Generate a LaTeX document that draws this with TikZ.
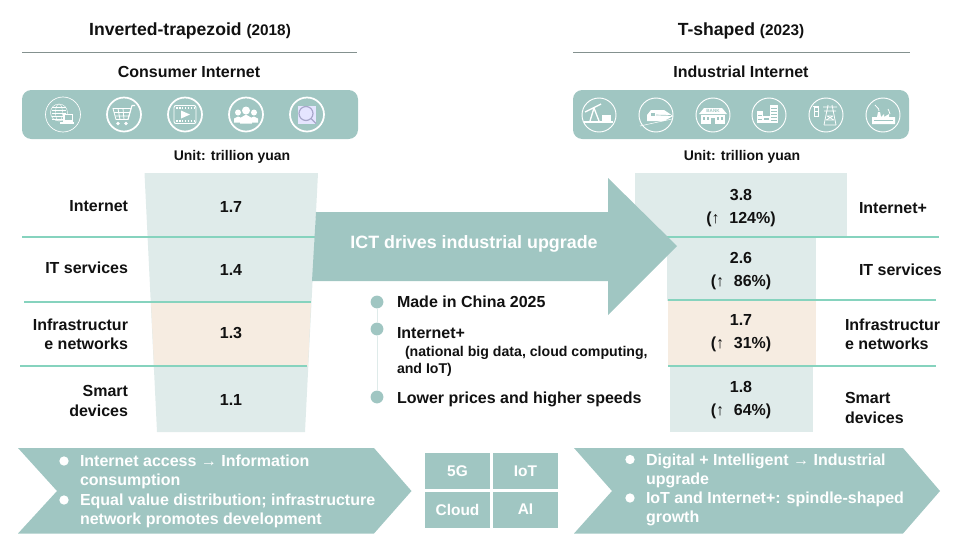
\documentclass[tikz,border=0pt]{standalone}
\usepackage{fontspec}
\setmainfont{Liberation Sans}
\usepackage{tikz}
\usetikzlibrary{calc}

\definecolor{tealfill}{HTML}{A0C6C2}
\definecolor{palefill}{HTML}{DFEBEA}
\definecolor{peachfill}{HTML}{F6ECE1}
\definecolor{bandline}{HTML}{86D3BE}
\definecolor{headline}{HTML}{84918F}
\definecolor{inktext}{HTML}{111111}

\tikzset{
  every node/.style={inner sep=0pt,outer sep=0pt,text=inktext,font=\fontsize{12}{14.4}\selectfont\bfseries},
  titletext/.style={font=\fontsize{13.2}{15}\selectfont\bfseries},
  unittext/.style={font=\fontsize{10.5}{12}\selectfont\bfseries},
  valuetext/.style={align=center,font=\fontsize{12}{17.2}\selectfont\bfseries},
  whitetext/.style={text=white,align=left,anchor=north west,font=\fontsize{12}{14.4}\selectfont\bfseries},
  lefttag/.style={align=right,anchor=east},
  righttag/.style={align=left,anchor=west},
  midtext/.style={anchor=west,align=left,font=\fontsize{12}{12.8}\selectfont\bfseries},
  bandrule/.style={bandline,line width=0.8pt},
  iconring/.style={white,line width=0.5pt},
  iconringb/.style={white,line width=1.3pt},
  gridcell/.style={fill=tealfill,minimum width=48.75pt,minimum height=27pt,text=white,font=\fontsize{11.6}{14}\selectfont\bfseries},
  dotmark/.style={circle,fill=tealfill,minimum size=9.6pt},
  whitedot/.style={circle,fill=white,minimum size=7pt}
}

\begin{document}
\begin{tikzpicture}[x=0.75pt,y=-0.75pt]
\useasboundingbox (0,0) rectangle (960,540);

% left column
\node[titletext] (lefttitle) at (190,31) {Inverted-trapezoid {\fontsize{11.5}{12}\selectfont(2018)}};
\draw[headline,line width=0.6pt] (22,52)--(357,52);
\node (leftsub) at (189,72) {Consumer Internet};
\fill[tealfill,rounded corners=7pt] (22,90) rectangle (358,139);
\node[unittext] (leftunit) at (232,157) {Unit: trillion yuan};

\fill[palefill] (144.5,173)--(318,173)--(305,432)--(157,432)--cycle;
\fill[peachfill] (151,302)--(311,302)--(308,366)--(154,366)--cycle;
\draw[bandrule] (22,237)--(315,237);
\draw[bandrule] (24,302)--(311,302);
\draw[bandrule] (20,366)--(307,366);

\node (lefta) at (231,207) {1.7};
\node (leftb) at (231,270) {1.4};
\node (leftc) at (231,333) {1.3};
\node (leftd) at (231,400) {1.1};
\node[lefttag] (taga) at (128,206) {Internet};
\node[lefttag] (tagb) at (128,268) {IT services};
\node[lefttag] (tagc) at (128,334) {Infrastructur\\e networks};
\node[lefttag] (tagd) at (128,401) {Smart\\devices};

% right column
\node[titletext] (righttitle) at (741,31) {T-shaped {\fontsize{11.5}{12}\selectfont(2023)}};
\draw[headline,line width=0.6pt] (573,52)--(910,52);
\node (rightsub) at (741,72) {Industrial Internet};
\fill[tealfill,rounded corners=7pt] (573,90) rectangle (909,139);
\node[unittext] (rightunit) at (742,157) {Unit: trillion yuan};

\fill[palefill] (635,173) rectangle (847,237);
\fill[palefill] (667,237) rectangle (816,301);
\fill[peachfill] (668,301) rectangle (816,366);
\fill[palefill] (670,366) rectangle (813,432);
\draw[bandrule] (667,237)--(939,237);
\draw[bandrule] (668,300)--(936,300);
\draw[bandrule] (668,366)--(936,366);

\node[valuetext] (righta) at (741,208) {3.8\\(↑ \,\,124\%)};
\node[valuetext] (rightb) at (741,271) {2.6\\(↑ \,\,86\%)};
\node[valuetext] (rightc) at (741,333) {1.7\\(↑ \,\,31\%)};
\node[valuetext] (rightd) at (741,400) {1.8\\(↑ \,\,64\%)};
\node[righttag] (tage) at (859,208) {Internet+};
\node[righttag] (tagf) at (859,270) {IT services};
\node[righttag] (tagg) at (845,334) {Infrastructur\\e networks};
\node[righttag] (tagh) at (845,408) {Smart\\devices};

% big arrow
\fill[tealfill] (316,212)--(608,212)--(608,178)--(677,246)--(608,315)--(608,281)--(312,281)--cycle;
\node[text=white,font=\fontsize{13.4}{15}\selectfont\bfseries] (arrowtext) at (474,244) {ICT drives industrial upgrade};

% policy list
\node[dotmark] (dota) at (377,302) {};
\node[dotmark] (dotb) at (377,329) {};
\node[dotmark] (dotc) at (377,397) {};
\draw[palefill,line width=0.6pt] (dota)--(dotb);
\draw[palefill,line width=0.6pt] (dotb)--(dotc);
\node[midtext] (mida) at (397,302) {Made in China 2025};
\node[midtext] (midb) at (397,352) {Internet+\\\hspace*{6pt}{\fontsize{10.6}{12.8}\selectfont(national big data, cloud computing,}\\{\fontsize{10.6}{12.8}\selectfont and IoT)}};
\node[midtext] (midc) at (397,399) {Lower prices and higher speeds};

% bottom chevrons
\fill[tealfill] (18,448)--(374,448)--(411.5,491)--(374,533.5)--(18,533.5)--(57,491)--cycle;
\fill[tealfill] (574,448)--(903,448)--(940,491)--(903,533.5)--(574,533.5)--(612,491)--cycle;
\node[whitedot] (bula) at (64,461) {};
\node[whitedot] (bulb) at (64,500) {};
\node[whitedot] (bulc) at (630,459.5) {};
\node[whitedot] (buld) at (630,498) {};
\node[whitetext] (infoa) at (80,455) {Internet access → Information\\consumption\\Equal value distribution; infrastructure\\network promotes development};
\node[whitetext] (infob) at (646,453.5) {Digital + Intelligent → Industrial\\upgrade\\IoT and Internet+: spindle-shaped\\growth};

% technology grid
\node[gridcell] (cellg) at (457.5,471) {5G};
\node[gridcell] (celli) at (525.5,471) {IoT};
\node[gridcell] (cellc) at (457.5,509.5) {Cloud};
\node[gridcell] (cella) at (525.5,509.5) {AI};

% icon rings
\foreach \x in {63}
  \draw[iconring] (\x,114.5) circle(17.5);
\foreach \x in {124,185,246,307}
  \draw[iconringb] (\x,114.5) circle(17);
\foreach \x in {599,656,713,769,826,883}
  \draw[iconring,line width=0.7pt] (\x,115) circle(17);

% globe
\begin{scope}[shift={(63,114.5)}]
\draw[white,line width=0.3pt] (-4,-2) circle(8.5);
\draw[white,line width=0.3pt] (-4,-2) ellipse(3.5 and 8.5);
\foreach \y in {-7,-4,-1,2,5} \draw[white,line width=0.3pt] (-11,\y)--(3,\y);
\fill[white] (0,-1) rectangle (10,7);
\fill[tealfill] (1.5,0.5) rectangle (8.5,5);
\fill[white] (-3,7.5) rectangle (11,9.5);
\end{scope}
% cart
\begin{scope}[shift={(124,114.5)}]
\draw[white,line width=0.6pt] (-11,-6)--(7,-6)--(4,5)--(-8,5)--cycle;
\draw[white,line width=0.6pt] (-10,-2)--(6,-2) (-9,1.5)--(5,1.5) (-6,-6)--(-4,5) (-1,-6)--(0,5);
\draw[white,line width=0.8pt] (4,5)--(8,-9)--(11,-9);
\fill[white] (-6,9) circle(1.8) (2,9) circle(1.8);
\end{scope}
% film
\begin{scope}[shift={(185,114.5)}]
\draw[white,line width=0.7pt,rounded corners=1.5pt] (-11,-9) rectangle (11,9);
\draw[white,line width=1.2pt,densely dotted] (-9,-6.5)--(9,-6.5) (-9,6.5)--(9,6.5);
\fill[white] (-4,-4)--(5,0)--(-4,4)--cycle;
\end{scope}
% people
\begin{scope}[shift={(246,114.5)}]
\fill[white] (-8,-2) circle(3) (8,-2) circle(3) (0,-4) circle(4);
\fill[white] (-12,8)--(-12,4)--(-8,2)--(-3,4)--(-3,8)--cycle;
\fill[white] (12,8)--(12,4)--(8,2)--(3,4)--(3,8)--cycle;
\fill[white] (-6,9)--(-5,3)--(0,0)--(5,3)--(6,9)--cycle;
\end{scope}
% magnifier
\begin{scope}[shift={(307,114.5)}]
\fill[white!90!blue] (-9,-9) rectangle (9,9);
\draw[blue!25!gray!55,line width=0.9pt] (-1,-1) circle(7);
\draw[blue!25!gray!55,line width=1pt] (4,4)--(9,9);
\end{scope}
% oil pump
\begin{scope}[shift={(599,115)}]
\draw[white,line width=1pt] (-14,-3)--(2,-11) (-5,-7)--(-9,6) (-5,-7)--(0,6);
\fill[white] (3,0) rectangle (12,6);
\draw[white,line width=0.8pt] (-15,7)--(14,7);
\end{scope}
% train
\begin{scope}[shift={(656,115)}]
\fill[white] (-9,6)--(-9,0)--(-5,-5)--(8,-5)--(17,1)--(8,6)--cycle;
\fill[tealfill] (-5,-2) rectangle (-1,1);
\draw[tealfill,line width=0.5pt] (0,0)--(15,0.5);
\draw[white,line width=0.4pt] (-16,11)--(16,4);
\end{scope}
% bank
\begin{scope}[shift={(713,115)}]
\fill[white] (-14,-1)--(-9,-7)--(9,-7)--(14,-1)--cycle;
\fill[white] (-12,0) rectangle (12,9);
\foreach \x in {-10,-6,4,8} \fill[tealfill] (\x,2) rectangle ++(2,3);
\fill[tealfill] (-2,3) rectangle (2,9);
\node[text=tealfill,font=\fontsize{3.4}{4}\selectfont\bfseries] (banktag) at (0,-4) {BANK};
\end{scope}
% plant
\begin{scope}[shift={(769,115)}]
\fill[white] (-12,-4) rectangle (-6,8);
\fill[white] (-6,1) rectangle (1,8);
\fill[white] (1,-10) rectangle (9,8);
\foreach \y in {-7,-4,-1,2,5} \draw[tealfill,line width=0.4pt] (2,\y)--(8,\y);
\draw[tealfill,line width=0.5pt] (-11,0)--(-7,0) (-11,4)--(-7,4);
\fill[tealfill] (-5,3) rectangle (0,5);
\end{scope}
% pylon
\begin{scope}[shift={(826,115)}]
\draw[white,line width=0.6pt] (2,-10)--(-2,10) (6,-10)--(10,10) (-3,-8)--(11,-8) (-2,-4)--(10,-4);
\draw[white,line width=0.5pt] (1,1)--(7,1) (0,5)--(8,5) (-2,10)--(10,10) (1,1)--(8,5) (7,1)--(0,5);
\draw[white,line width=0.6pt] (-12,-8) rectangle (-8,1);
\draw[white,line width=0.5pt] (-13,-9)--(-7,-9) (-12,-4)--(-8,-4);
\end{scope}
% factory
\begin{scope}[shift={(883,115)}]
\fill[white] (-11,9)--(-11,2)--(-6,2)--(-5,-3)--(-3,-3)--(-2,2)--(1,-1)--(1,2)--(6,-1)--(6,2)--(12,2)--(12,9)--cycle;
\draw[white,line width=0.6pt] (-4,-4) .. controls (-4,-8) and (-7,-7) .. (-8,-10);
\draw[white,line width=0.6pt] (7,-1) .. controls (7,-4) and (5,-4) .. (5,-6);
\draw[tealfill,line width=0.5pt] (-9,5)--(10,5);
\end{scope}
\end{tikzpicture}
\end{document}
